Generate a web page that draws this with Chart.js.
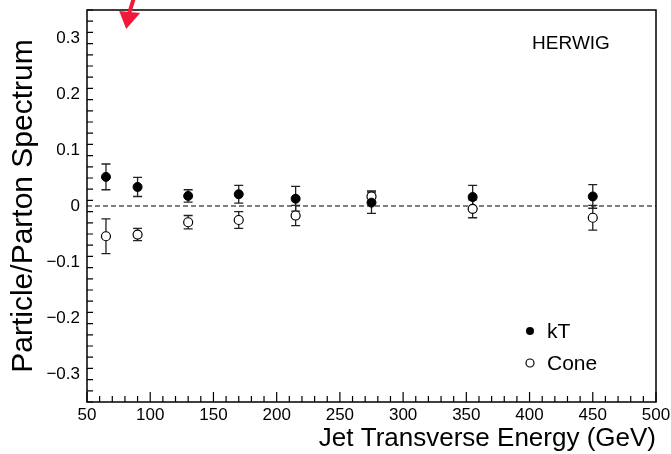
<!DOCTYPE html>
<html>
<head>
<meta charset="utf-8">
<script src="https://cdn.jsdelivr.net/npm/chart.js@4"></script>
<style>
  html, body { margin: 0; padding: 0; background: #fff; }
</style>
</head>
<body>
<canvas id="chart" width="671" height="454"></canvas>
<script>
const energies = [65, 90, 130, 170, 215, 275, 355, 450];
const ktValues = [0.052, 0.034, 0.018, 0.021, 0.013, 0.006, 0.016, 0.017];
const ktErrors = [0.023, 0.017, 0.011, 0.016, 0.022, 0.019, 0.021, 0.021];
const coneValues = [-0.054, -0.051, -0.029, -0.025, -0.017, 0.017, -0.005, -0.021];
const coneErrors = [0.031, 0.011, 0.012, 0.015, 0.018, 0.010, 0.016, 0.022];

const xTickValues = [50, 100, 150, 200, 250, 300, 350, 400, 450, 500];
const yTickValues = [-0.3, -0.2, -0.1, 0, 0.1, 0.2, 0.3];
const xMinorStep = 10;
const yMinorStep = 0.02;

const seriesNames = ['kT', 'Cone'];
const generatorLabel = 'HERWIG';
const arrowTip = { x: 81, y: 0.316 };

const FONT = "'Liberation Sans', Arial, sans-serif";
Chart.defaults.font.family = FONT;
Chart.defaults.color = '#000';

function fmtY(v) {
  if (Math.abs(v) < 1e-9) return '0';
  return v.toFixed(1).replace('-', '\u2212');
}

const decor = {
  id: 'decor',
  beforeDatasetsDraw(chart) {
    const { ctx, chartArea: a, scales: { x, y } } = chart;
    ctx.save();
    // dashed zero line
    const y0 = y.getPixelForValue(0);
    ctx.strokeStyle = '#555';
    ctx.lineWidth = 1.5;
    ctx.setLineDash([5, 3]);
    ctx.beginPath();
    ctx.moveTo(a.left, y0);
    ctx.lineTo(a.right, y0);
    ctx.stroke();
    ctx.setLineDash([]);

    // error bars
    ctx.strokeStyle = '#222';
    ctx.lineWidth = 1.3;
    [[coneValues, coneErrors], [ktValues, ktErrors]].forEach(([vals, errs]) => {
      energies.forEach((e, i) => {
        const px = x.getPixelForValue(e);
        const hi = y.getPixelForValue(vals[i] + errs[i]);
        const lo = y.getPixelForValue(vals[i] - errs[i]);
        ctx.beginPath();
        ctx.moveTo(px, hi); ctx.lineTo(px, lo);
        ctx.moveTo(px - 4.5, hi); ctx.lineTo(px + 4.5, hi);
        ctx.moveTo(px - 4.5, lo); ctx.lineTo(px + 4.5, lo);
        ctx.stroke();
      });
    });
    ctx.restore();
  },
  afterDraw(chart) {
    const { ctx, chartArea: a, scales: { x, y } } = chart;
    ctx.save();

    // frame
    ctx.strokeStyle = '#000';
    ctx.lineWidth = 1.5;
    ctx.strokeRect(a.left, a.top, a.right - a.left, a.bottom - a.top);

    // inside ticks, left axis
    ctx.lineWidth = 1.2;
    const ny = Math.round((y.max - y.min) / yMinorStep);
    ctx.beginPath();
    for (let k = 0; k <= ny; k++) {
      const v = y.min + k * yMinorStep;
      const major = Math.abs(v * 10 - Math.round(v * 10)) < 1e-6;
      const py = y.getPixelForValue(v);
      ctx.moveTo(a.left, py);
      ctx.lineTo(a.left + (major ? 11 : 6), py);
    }
    // inside ticks, bottom axis
    const nx = Math.round((x.max - x.min) / xMinorStep);
    for (let k = 0; k <= nx; k++) {
      const v = x.min + k * xMinorStep;
      const major = v % 50 === 0;
      const px = x.getPixelForValue(v);
      ctx.moveTo(px, a.bottom);
      ctx.lineTo(px, a.bottom - (major ? 10 : 6));
    }
    ctx.stroke();

    // generator label
    ctx.fillStyle = '#000';
    ctx.font = '19px ' + FONT;
    ctx.textAlign = 'center';
    ctx.textBaseline = 'middle';
    ctx.fillText(generatorLabel, a.right - 85, a.top + 34);

    // legend
    const lx = a.right - 126;
    const ly = [a.bottom - 71, a.bottom - 39];
    ctx.font = '21px ' + FONT;
    ctx.textAlign = 'left';
    ctx.lineWidth = 1.2;
    seriesNames.forEach((name, i) => {
      ctx.beginPath();
      ctx.arc(lx, ly[i], 4, 0, Math.PI * 2);
      if (i === 0) { ctx.fillStyle = '#000'; ctx.fill(); }
      else { ctx.fillStyle = '#fff'; ctx.fill(); ctx.strokeStyle = '#000'; ctx.stroke(); }
      ctx.fillStyle = '#000';
      ctx.fillText(name, lx + 17, ly[i] + 1);
    });

    // red arrow
    const tx = x.getPixelForValue(arrowTip.x);
    const ty = y.getPixelForValue(arrowTip.y);
    ctx.fillStyle = '#f2183c';
    ctx.strokeStyle = '#f2183c';
    ctx.lineWidth = 4;
    ctx.beginPath();
    ctx.moveTo(tx + 3, ty - 16);
    ctx.lineTo(tx + 8, ty - 32);
    ctx.stroke();
    ctx.beginPath();
    ctx.moveTo(tx, ty);
    ctx.lineTo(tx - 7, ty - 18);
    ctx.lineTo(tx + 14, ty - 16);
    ctx.closePath();
    ctx.fill();

    ctx.restore();
  }
};

new Chart(document.getElementById('chart'), {
  type: 'scatter',
  data: {
    datasets: [
      {
        label: seriesNames[0],
        data: energies.map((e, i) => ({ x: e, y: ktValues[i] })),
        pointRadius: 4.5,
        pointBackgroundColor: '#000',
        pointBorderColor: '#000',
        pointBorderWidth: 1,
      },
      {
        label: seriesNames[1],
        data: energies.map((e, i) => ({ x: e, y: coneValues[i] })),
        pointRadius: 4.5,
        pointBackgroundColor: '#fff',
        pointBorderColor: '#000',
        pointBorderWidth: 1.2,
      },
    ],
  },
  options: {
    responsive: false,
    animation: false,
    layout: { padding: { top: 10, right: 15, left: 0, bottom: 0 } },
    plugins: { legend: { display: false }, tooltip: { enabled: false } },
    scales: {
      x: {
        type: 'linear',
        min: 50,
        max: 500,
        afterBuildTicks: s => { s.ticks = xTickValues.map(v => ({ value: v })); },
        afterFit: s => { s.height = 52; s.paddingLeft = 0; s.paddingRight = 0; },
        grid: { display: false, drawTicks: false },
        border: { display: false },
        ticks: { font: { size: 17 }, color: '#000', padding: 3, maxRotation: 0, autoSkip: false },
        title: {
          display: true,
          text: 'Jet Transverse Energy (GeV)',
          align: 'end',
          font: { size: 26 },
          color: '#000',
          padding: { top: 2, bottom: 0 },
        },
      },
      y: {
        type: 'linear',
        min: -0.35,
        max: 0.35,
        afterBuildTicks: s => { s.ticks = yTickValues.map(v => ({ value: v })); },
        afterFit: s => { s.width = 87; s.paddingTop = 0; s.paddingBottom = 0; },
        grid: { display: false, drawTicks: false },
        border: { display: false },
        ticks: { font: { size: 17 }, color: '#000', padding: 7, callback: v => fmtY(v), autoSkip: false },
        title: {
          display: true,
          text: 'Particle/Parton Spectrum',
          font: { size: 30 },
          color: '#000',
          padding: { top: 6, bottom: 0 },
        },
      },
    },
  },
  plugins: [decor],
});
</script>
</body>
</html>
